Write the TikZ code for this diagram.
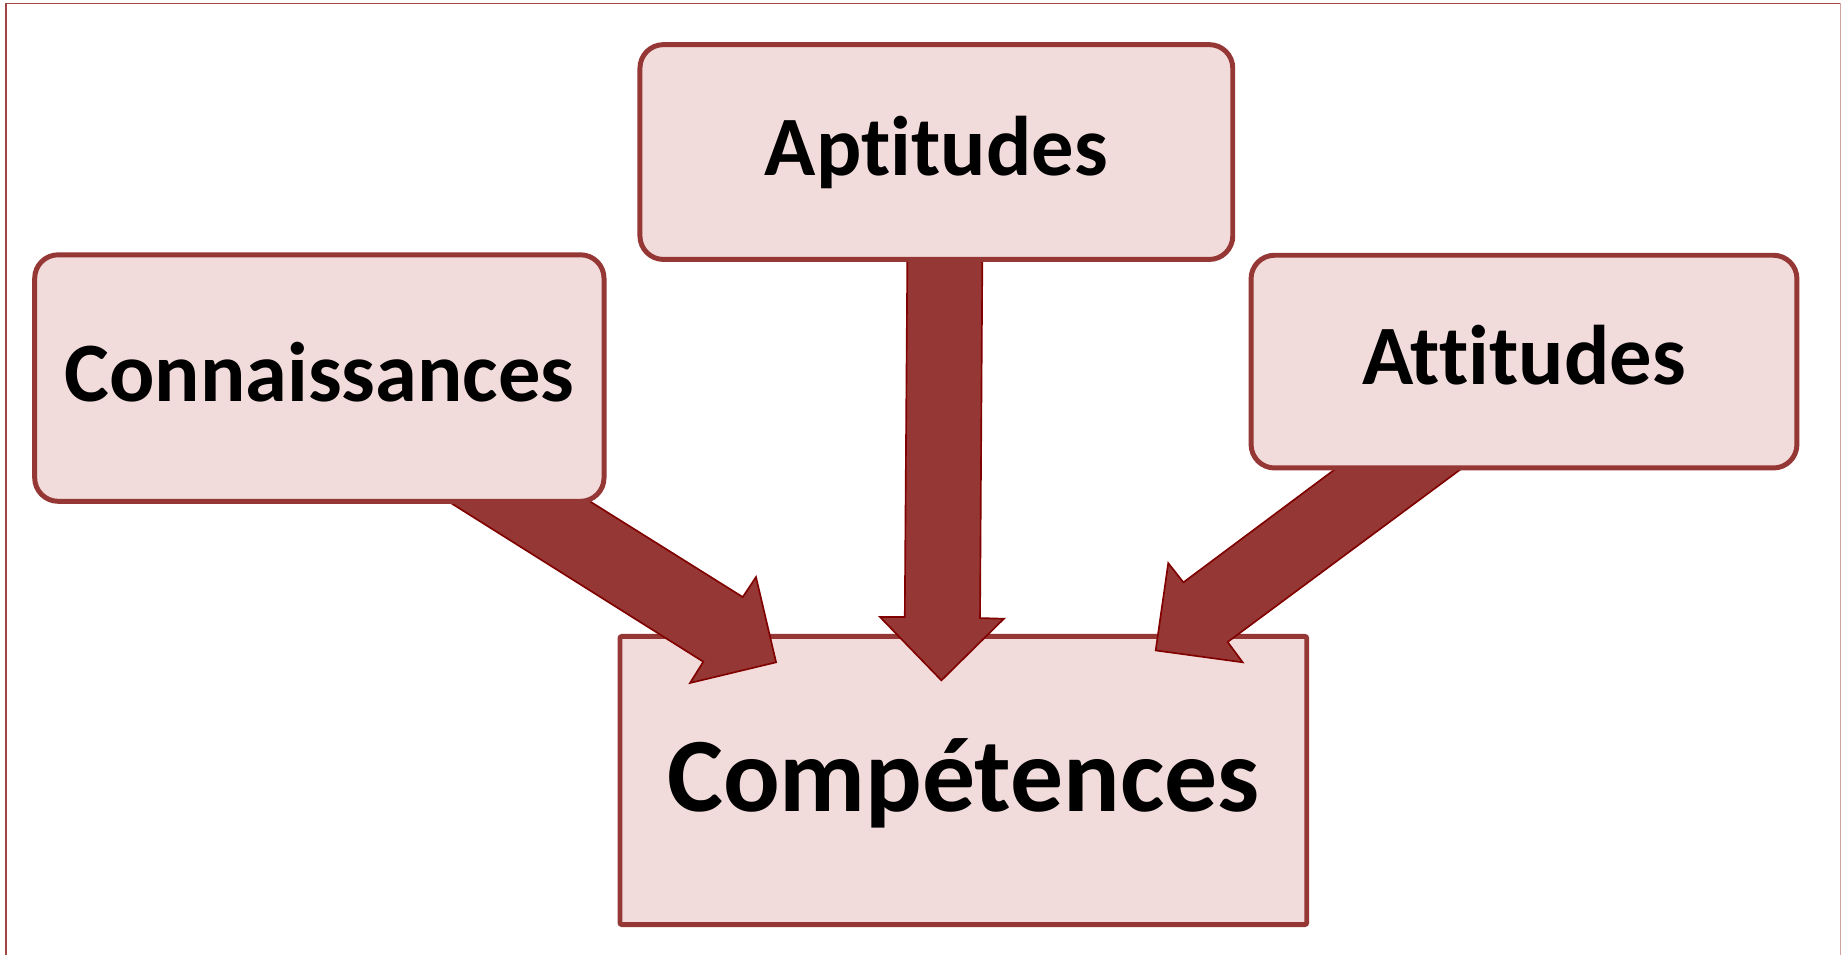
\documentclass[tikz,border=0pt]{standalone}
\usepackage{fontspec}
\setmainfont[Ligatures={NoCommon,NoRare,NoContextual}]{Carlito}
\definecolor{boxfill}{HTML}{F2DCDB}
\definecolor{boxline}{HTML}{953735}
\definecolor{arrowfill}{HTML}{953735}
\definecolor{arrowline}{HTML}{800000}
\definecolor{frameline}{HTML}{A34542}
\begin{document}
\begin{tikzpicture}[x=0.02cm,y=-0.02cm,
  srcbox/.style={draw=boxline, fill=boxfill, line width=2.4pt, rounded corners=0.4cm,
    font=\fontsize{41}{48}\selectfont\bfseries, text height=22.6pt, text depth=0pt, inner sep=0pt},
  tgtbox/.style={draw=boxline, fill=boxfill, line width=2.4pt, rounded corners=1pt,
    font=\fontsize{51.2}{60}\selectfont\bfseries, text height=29.6pt, text depth=0pt, inner sep=0pt},
  fatarrow/.style={fill=arrowfill, draw=arrowline, line width=0.8pt, line join=miter},
  frame/.style={draw=frameline, line width=0.7pt}]
\useasboundingbox (0,0) rectangle (1568,813);
\fill[white] (0,0) rectangle (1568,813);
% outer frame
\draw[frame] (5.1,813) -- (5.1,2.8) -- (1567.8,2.8);
\draw[frameline!50, line width=0.4pt] (1567.8,2.8) -- (1567.8,813);
% target
\node[tgtbox, minimum width=11.7cm, minimum height=4.91cm] (comp) at (820.5,664.75) {Compétences};
% arrows
\filldraw[fatarrow] (772.8,215) -- (770.6,525.5) -- (749.5,525.5) -- (801.8,579.5)
  -- (855,527) -- (834.7,526.4) -- (836.7,215) -- cycle;
\filldraw[fatarrow] (370.6,420) -- (599,563.6) -- (587.7,581.7) -- (661,564.1)
  -- (643.9,491.5) -- (632.6,508.5) -- (491.2,420) -- cycle;
\filldraw[fatarrow] (1147.3,392) -- (1007.9,496) -- (995,479.6) -- (984.3,554)
  -- (1058.4,564.1) -- (1045.6,546.8) -- (1254.4,392) -- cycle;
% sources
\node[srcbox, minimum width=10.1cm, minimum height=3.66cm] (apt) at (797.5,129.5) {Aptitudes};
\node[srcbox, minimum width=9.7cm, minimum height=4.2cm] (con) at (272,322) {Connaissances};
\node[srcbox, minimum width=9.3cm, minimum height=3.624cm] (att) at (1298,308) {Attitudes};
\end{tikzpicture}
\end{document}
